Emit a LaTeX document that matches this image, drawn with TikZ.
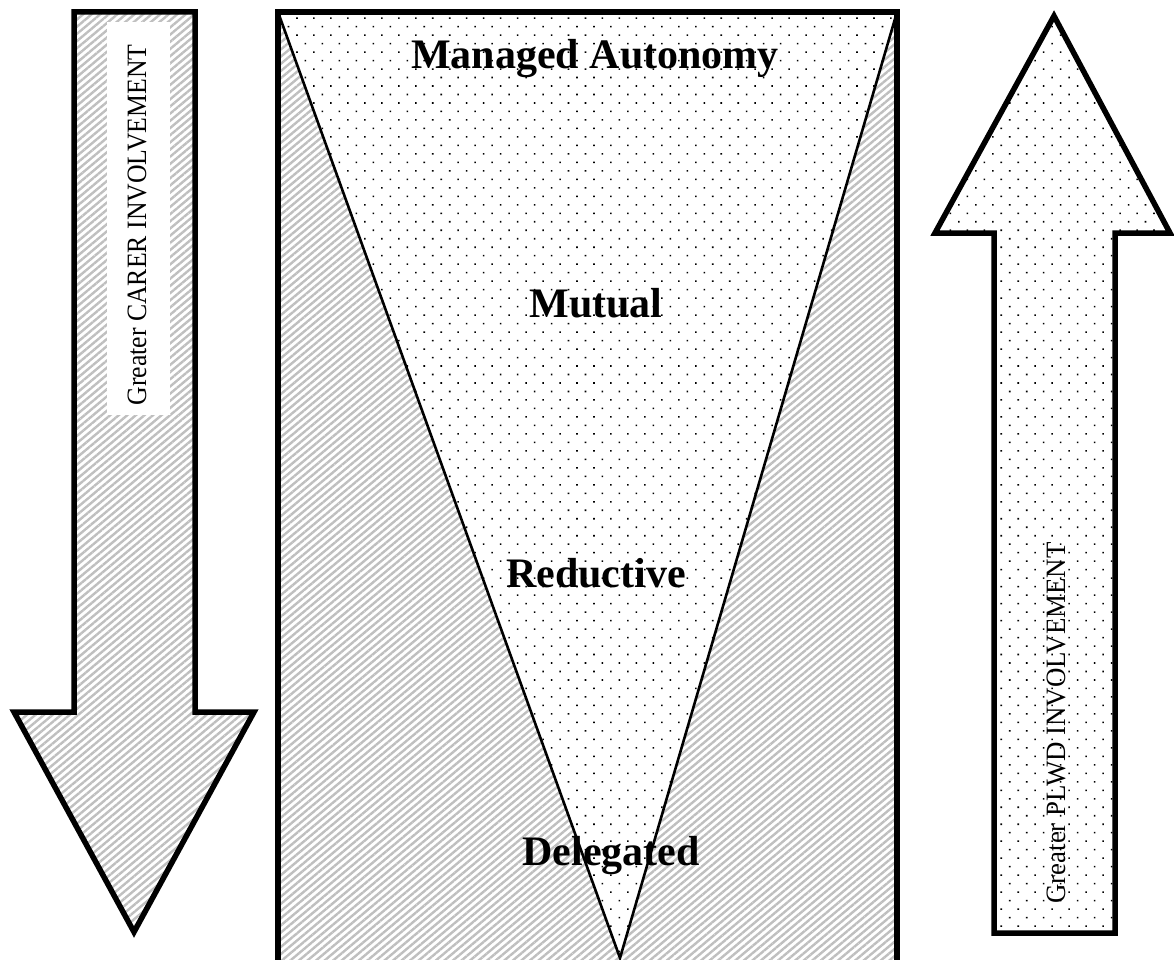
\documentclass[tikz,border=0pt]{standalone}
\usepackage{fontspec}
\setmainfont{Liberation Serif}
\usetikzlibrary{patterns.meta}
\begin{document}
\begin{tikzpicture}[x=1pt,y=-1pt,
  hatchfill/.style={pattern={Lines[angle=40,distance=5.5pt,line width=2.4pt]},pattern color=black!25},
  dotfill/.style={pattern={Dots[angle=45,distance=12pt,radius=1.1pt]},pattern color=black},
  outline/.style={draw=black,line width=5.5pt,line join=miter},
  tri/.style={draw=black,line width=2.6pt},
  lbl/.style={font=\bfseries\fontsize{42}{42}\selectfont,anchor=base,inner sep=0pt},
  sidelbl/.style={font=\fontsize{28}{28}\selectfont,rotate=90,inner sep=0pt}]
\useasboundingbox (0,0) rectangle (1174,960);
\clip (0,0) rectangle (1174,960);
% left arrow (down)
\path[hatchfill] (74,12) -- (195,12) -- (195,712) -- (254,712) -- (134,932) -- (14,712) -- (74,712) -- cycle;
\draw[outline] (74,12) -- (195,12) -- (195,712) -- (254,712) -- (134,932) -- (14,712) -- (74,712) -- cycle;
\fill[white] (107,22) rectangle (170,415);
\node[sidelbl] (carer) at (137,225) {\scalebox{0.92}[1]{Greater CARER INVOLVEMENT}};
% right arrow (up)
\fill[white] (1054,16) -- (1170,233) -- (1115,233) -- (1115,933) -- (994,933) -- (994,233) -- (935,233) -- cycle;
\path[dotfill] (1054,16) -- (1170,233) -- (1115,233) -- (1115,933) -- (994,933) -- (994,233) -- (935,233) -- cycle;
\draw[outline] (1054,16) -- (1170,233) -- (1115,233) -- (1115,933) -- (994,933) -- (994,233) -- (935,233) -- cycle;
\node[sidelbl] (plwd) at (1056,723) {\scalebox{0.96}[1]{Greater PLWD INVOLVEMENT}};
% central box
\path[hatchfill] (278,12) -- (620,958) -- (620,980) -- (278,980) -- cycle;
\path[hatchfill] (897,12) -- (620,958) -- (620,980) -- (897,980) -- cycle;
\fill[white] (278,12) -- (897,12) -- (620,958) -- cycle;
\path[dotfill] (278,12) -- (897,12) -- (620,958) -- cycle;
\draw[tri] (278,12) -- (620,958) -- (897,12);
\draw[outline] (278,980) -- (278,12) -- (897,12) -- (897,980);
\node[lbl] (managed) at (595,69) {Managed Autonomy};
\node[lbl] (mutual) at (596,317) {Mutual};
\node[lbl] (reductive) at (596,587) {Reductive};
\node[lbl] (delegated) at (611,865) {Delegated};
\end{tikzpicture}
\end{document}
